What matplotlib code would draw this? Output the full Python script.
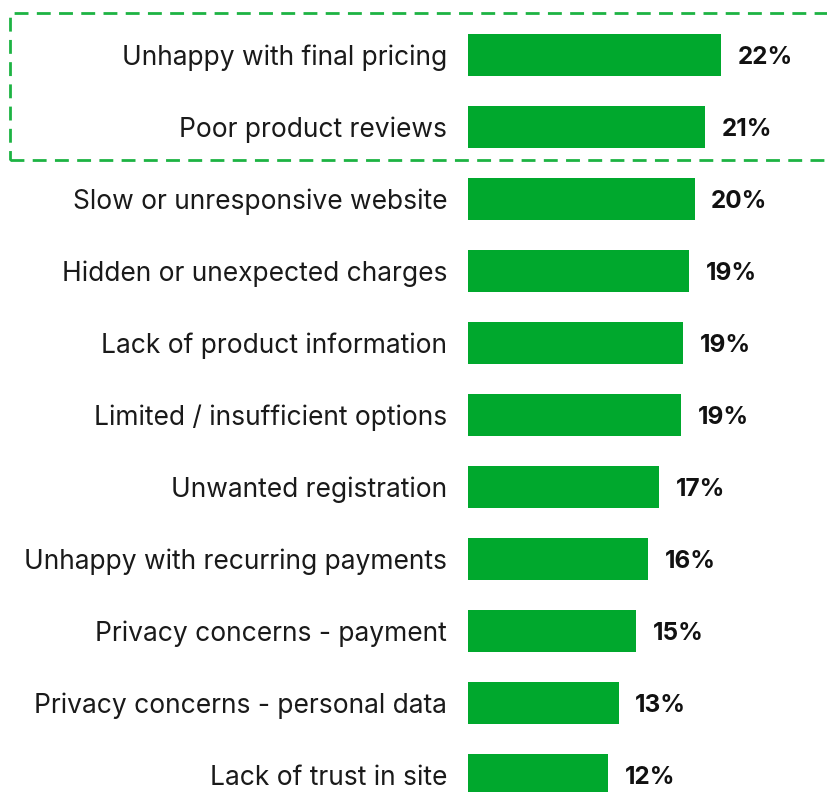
import matplotlib.pyplot as plt
from matplotlib.patches import Rectangle

# data
reasons = ['Unhappy with final pricing', 'Poor product reviews', 'Slow or unresponsive website',
           'Hidden or unexpected charges', 'Lack of product information', 'Limited / insufficient options',
           'Unwanted registration', 'Unhappy with recurring payments', 'Privacy concerns - payment',
           'Privacy concerns - personal data', 'Lack of trust in site']
values = [22.0, 20.6, 19.7, 19.2, 18.7, 18.5, 16.6, 15.65, 14.6, 13.1, 12.2]
labels = ['22%', '21%', '20%', '19%', '19%', '19%', '17%', '16%', '15%', '13%', '12%']

plt.rcParams['font.family'] = ['Inter', 'DejaVu Sans']

W, H = 828, 792
fig = plt.figure(figsize=(W / 100, H / 100), dpi=100)
ax = fig.add_axes([468 / W, 0, (W - 468) / W, 1])

pos = list(range(len(reasons)))
ax.barh(pos, values, height=0.57, color='#00a82d')
ax.set_ylim((H - 55) / 72, -55 / 72)
ax.set_xlim(0, (W - 468) / 11.5)

ax.set_yticks(pos)
ax.set_yticklabels(reasons, fontsize=19, color='#1a1a1a')
ax.tick_params(axis='y', length=0, pad=15)
ax.set_xticks([])
for s in ax.spines.values():
    s.set_visible(False)

for p, v, lab in zip(pos, values, labels):
    ax.annotate(lab, (v, p), xytext=(12, 0), textcoords='offset points',
                va='center_baseline', ha='left', fontsize=17.5, fontweight='bold', color='#111111')

# dashed highlight box around top two rows
box = Rectangle((10 / W, 1 - 160 / H), 830 / W, 147 / H, transform=fig.transFigure,
                fill=False, edgecolor='#1db343', linewidth=2, linestyle=(0, (5, 3)),
                clip_on=False)
fig.patches.append(box)

fig.savefig('out.png', dpi=100)
